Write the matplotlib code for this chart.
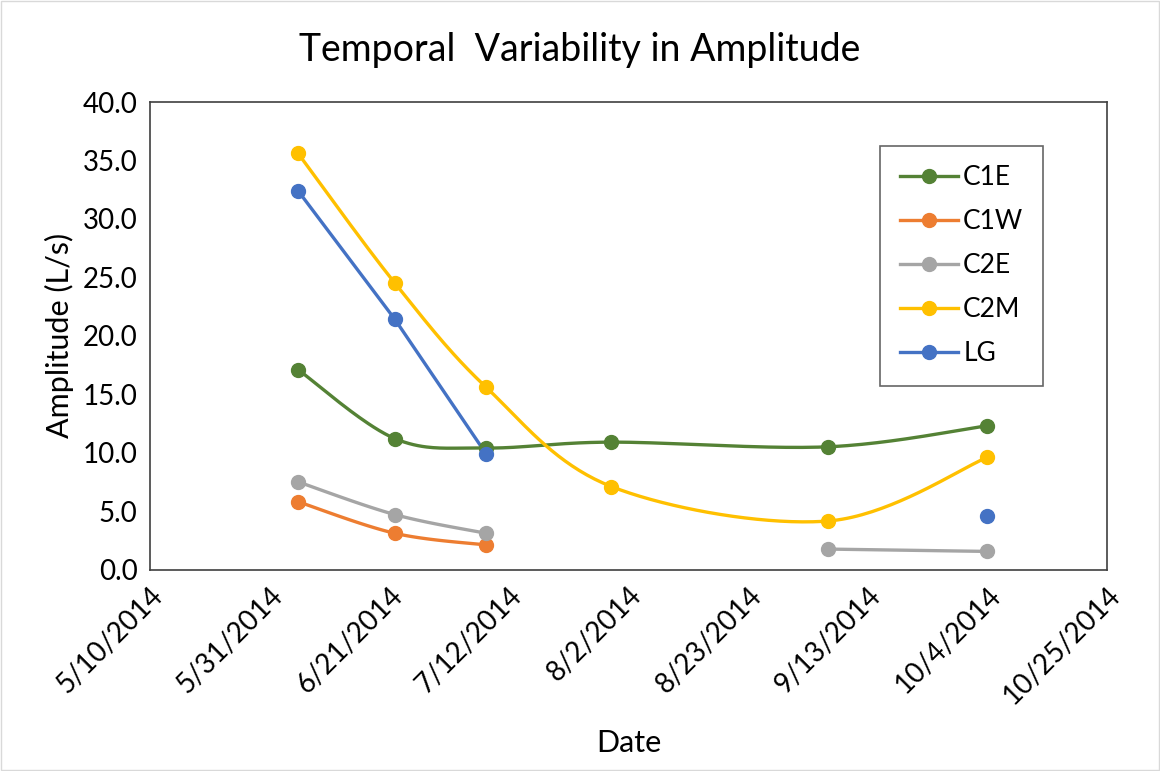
import numpy as np
import matplotlib
matplotlib.use('Agg')
import matplotlib.pyplot as plt
import matplotlib.dates as mdates
from matplotlib.patches import Rectangle
from matplotlib.lines import Line2D
from matplotlib.ticker import FuncFormatter, MultipleLocator
import datetime as dt

plt.rcParams['font.family'] = ['Lato', 'DejaVu Sans']

# Sampling dates and amplitudes (L/s); NaN = no measurement
dates = ['2014-06-05', '2014-06-22', '2014-07-08', '2014-07-30', '2014-09-06', '2014-10-04']
series_names = ['C1E', 'C1W', 'C2E', 'C2M', 'LG']
c1e = [17.1, 11.2, 10.4, 10.9, 10.5, 12.3]
c1w = [5.8, 3.1, 2.1, np.nan, np.nan, np.nan]
c2e = [7.5, 4.7, 3.1, np.nan, 1.75, 1.55]
c2m = [35.6, 24.5, 15.6, 7.1, 4.15, 9.6]
lg = [32.4, 21.4, 9.9, np.nan, np.nan, 4.6]
colors = ['#548235', '#ED7D31', '#A5A5A5', '#FFC000', '#4472C4']
smooth = [True, True, True, True, False]

x_start = dt.date(2014, 5, 10)
x_end = dt.date(2014, 10, 25)


def excel_smooth(x, y, n=40):
    # cubic bezier through points, Excel style (tension 1/6)
    if len(x) < 2:
        return np.array(x), np.array(y)
    px = np.concatenate([[x[0]], x, [x[-1]]])
    py = np.concatenate([[y[0]], y, [y[-1]]])
    xs, ys = [], []
    t = np.linspace(0, 1, n)
    for i in range(1, len(px) - 2):
        p0 = np.array([px[i], py[i]])
        p3 = np.array([px[i + 1], py[i + 1]])
        p1 = p0 + (p3 - np.array([px[i - 1], py[i - 1]])) / 6
        p2 = p3 - (np.array([px[i + 2], py[i + 2]]) - p0) / 6
        b = ((1 - t) ** 3)[:, None] * p0 + (3 * (1 - t) ** 2 * t)[:, None] * p1 \
            + (3 * (1 - t) * t ** 2)[:, None] * p2 + (t ** 3)[:, None] * p3
        xs.extend(b[:, 0])
        ys.extend(b[:, 1])
    return np.array(xs), np.array(ys)


def segments(x, y):
    segs, cur = [], []
    for xi, yi in zip(x, y):
        if np.isnan(yi):
            if cur:
                segs.append(cur)
            cur = []
        else:
            cur.append((xi, yi))
    if cur:
        segs.append(cur)
    return segs


fig = plt.figure(figsize=(11.6, 7.71), dpi=100)
ax = fig.add_axes([0.1293, 0.2613, 0.8250, 0.6064])

xnum = mdates.date2num([dt.date.fromisoformat(d) for d in dates])
all_series = [c1e, c1w, c2e, c2m, lg]

for name, vals, col, sm in zip(series_names, all_series, colors, smooth):
    vals = np.array(vals, dtype=float)
    for seg in segments(xnum, vals):
        sx = np.array([p[0] for p in seg])
        sy = np.array([p[1] for p in seg])
        if sm:
            cx, cy = excel_smooth(sx, sy)
        else:
            cx, cy = sx, sy
        ax.plot(cx, cy, color=col, lw=2.4, solid_capstyle='round', zorder=2)
    ax.plot(xnum, vals, 'o', color=col, ms=10, zorder=3)

x0, x1 = mdates.date2num(x_start), mdates.date2num(x_end)
ax.set_xlim(x0, x1)
ax.set_ylim(0, 40)
ax.set_xticks(np.arange(x0, x1 + 1, 21))
ax.xaxis.set_major_formatter(FuncFormatter(
    lambda v, p: '{d.month}/{d.day}/{d.year}'.format(d=mdates.num2date(v))))
ax.yaxis.set_major_locator(MultipleLocator(5))
ax.yaxis.set_major_formatter(FuncFormatter(lambda v, p: f'{v:.1f}'))
ax.tick_params(length=0, labelsize=20, pad=9)
for lbl in ax.get_xticklabels():
    lbl.set_rotation(45)
    lbl.set_ha('right')
    lbl.set_rotation_mode('anchor')
for s in ax.spines.values():
    s.set_color('#404040')
    s.set_linewidth(1.2)

ax.set_xlabel('Date', fontsize=22, labelpad=14)
ax.set_ylabel('Amplitude (L/s)', fontsize=22, labelpad=6)
fig.text(0.5, 0.935, 'Temporal  Variability in Amplitude', ha='center', va='center', fontsize=27)

handles = [Line2D([0], [0], color=c, lw=2.4, marker='o', ms=10) for c in colors]
leg = ax.legend(handles, series_names, loc='upper right', bbox_to_anchor=(0.947, 0.935),
                fontsize=19, frameon=True, fancybox=False, edgecolor='#404040',
                handlelength=2.2, handletextpad=0.2, labelspacing=0.72, borderpad=0.75)
leg.get_frame().set_linewidth(1.2)

fig.patches.append(Rectangle((0.001, 0.001), 0.998, 0.998, transform=fig.transFigure,
                             fill=False, edgecolor='#d9d9d9', lw=1))

fig.savefig('out.png', dpi=100)
